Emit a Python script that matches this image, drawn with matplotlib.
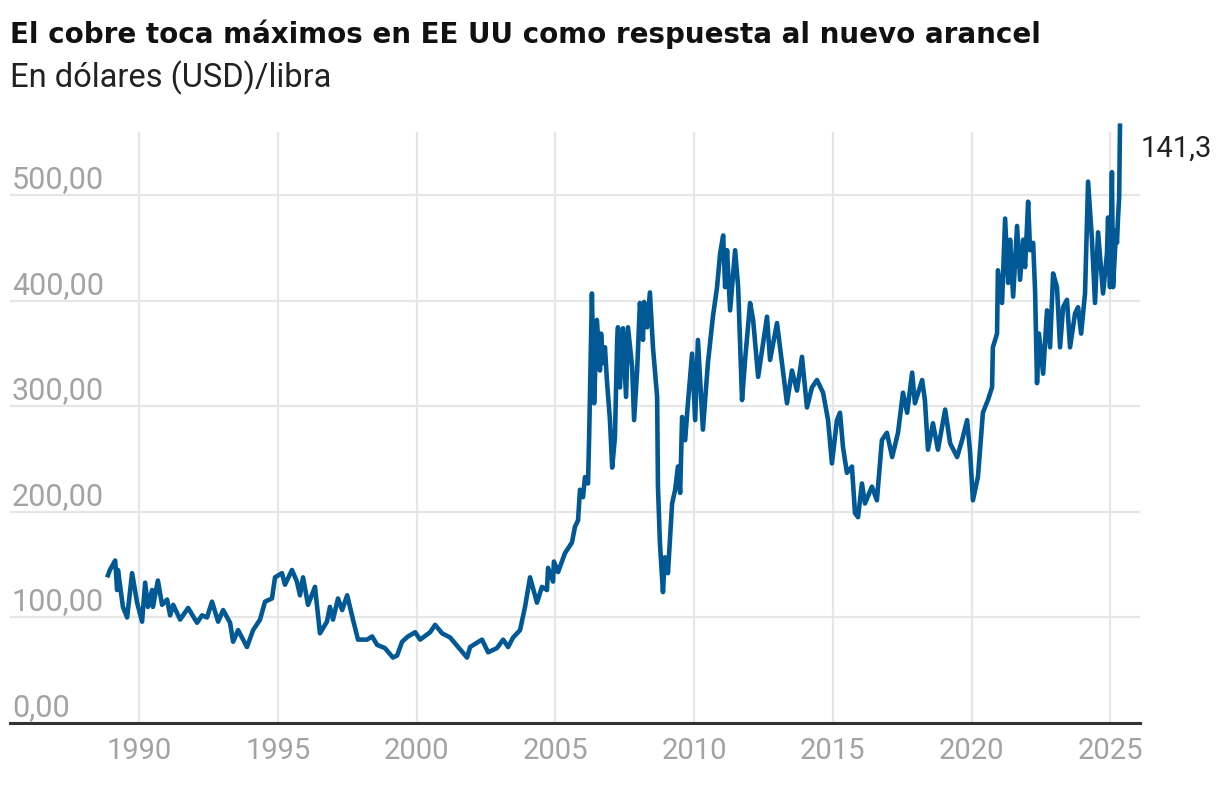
import matplotlib.pyplot as plt

# precio del cobre (USD/libra)
years = [
    1988.88, 1988.95, 1989.14, 1989.21, 1989.24, 1989.42, 1989.57, 1989.75, 1989.93,
    1990.11, 1990.22, 1990.32, 1990.47, 1990.50, 1990.68, 1990.83, 1991.01, 1991.12,
    1991.23, 1991.48, 1991.77, 1992.09, 1992.27, 1992.45, 1992.63, 1992.85, 1993.03,
    1993.28, 1993.39, 1993.57, 1993.89, 1994.11, 1994.36, 1994.54, 1994.79, 1994.90,
    1995.15, 1995.26, 1995.51, 1995.69, 1995.80, 1995.91, 1996.09, 1996.34, 1996.52,
    1996.77, 1996.88, 1996.99, 1997.17, 1997.32, 1997.50, 1997.71, 1997.89, 1998.22,
    1998.40, 1998.58, 1998.86, 1999.15, 1999.30, 1999.48, 1999.69, 1999.95, 2000.13,
    2000.49, 2000.67, 2000.92, 2001.21, 2001.50, 2001.82, 2001.93, 2002.18, 2002.36,
    2002.58, 2002.90, 2003.12, 2003.30, 2003.48, 2003.73, 2003.91, 2004.09, 2004.34,
    2004.52, 2004.70, 2004.74, 2004.92, 2004.95, 2005.10, 2005.35, 2005.60, 2005.71,
    2005.82, 2005.89, 2006.00, 2006.07, 2006.18, 2006.22, 2006.32, 2006.40, 2006.50,
    2006.61, 2006.65, 2006.72, 2006.79, 2006.86, 2006.97, 2007.05, 2007.15, 2007.23,
    2007.26, 2007.33, 2007.44, 2007.55, 2007.62, 2007.77, 2007.84, 2007.95, 2008.05,
    2008.16, 2008.20, 2008.31, 2008.41, 2008.52, 2008.67, 2008.70, 2008.77, 2008.88,
    2008.95, 2009.06, 2009.21, 2009.32, 2009.42, 2009.50, 2009.57, 2009.68, 2009.78,
    2009.93, 2010.04, 2010.14, 2010.32, 2010.50, 2010.68, 2010.83, 2010.94, 2011.05,
    2011.12, 2011.19, 2011.30, 2011.48, 2011.59, 2011.73, 2011.84, 2012.02, 2012.13,
    2012.31, 2012.45, 2012.63, 2012.74, 2012.99, 2013.17, 2013.35, 2013.53, 2013.71,
    2013.89, 2014.07, 2014.25, 2014.43, 2014.65, 2014.83, 2014.97, 2015.15, 2015.26,
    2015.37, 2015.51, 2015.69, 2015.80, 2015.91, 2016.05, 2016.16, 2016.41, 2016.59,
    2016.77, 2016.95, 2017.14, 2017.35, 2017.53, 2017.68, 2017.86, 2017.96, 2018.22,
    2018.32, 2018.43, 2018.61, 2018.79, 2019.05, 2019.23, 2019.48, 2019.66, 2019.84,
    2019.95, 2020.05, 2020.23, 2020.41, 2020.59, 2020.74, 2020.77, 2020.92, 2020.95,
    2021.10, 2021.21, 2021.32, 2021.39, 2021.50, 2021.64, 2021.75, 2021.86, 2021.93,
    2022.04, 2022.11, 2022.22, 2022.29, 2022.36, 2022.43, 2022.58, 2022.72, 2022.83,
    2022.94, 2023.08, 2023.19, 2023.30, 2023.44, 2023.55, 2023.73, 2023.84, 2023.95,
    2024.09, 2024.20, 2024.34, 2024.45, 2024.56, 2024.74, 2024.88, 2024.92, 2024.99,
    2025.06, 2025.10, 2025.21, 2025.24, 2025.28, 2025.32, 2025.35,
]
price = [
    140, 145, 154, 126, 145, 110, 100, 142, 114,
    96, 133, 110, 126, 110, 135, 112, 117, 102,
    112, 98, 109, 95, 102, 100, 115, 96, 107,
    95, 77, 88, 72, 88, 98, 115, 118, 138,
    142, 131, 145, 134, 121, 138, 112, 129, 85,
    96, 110, 98, 118, 107, 121, 98, 79, 79,
    82, 74, 71, 62, 64, 77, 82, 86, 79,
    86, 93, 85, 81, 72, 62, 72, 76, 79,
    67, 71, 79, 72, 81, 88, 110, 138, 114,
    129, 126, 147, 134, 153, 143, 161, 171, 186,
    192, 221, 214, 233, 227, 271, 407, 303, 382,
    334, 369, 341, 356, 325, 287, 242, 271, 363,
    375, 318, 374, 309, 375, 337, 287, 334, 398,
    363, 399, 375, 408, 356, 309, 224, 171, 124,
    157, 142, 208, 221, 243, 218, 290, 268, 303,
    350, 287, 363, 278, 341, 385, 413, 445, 462,
    413, 448, 391, 448, 413, 306, 344, 398, 382,
    328, 353, 385, 344, 379, 341, 303, 334, 315,
    347, 299, 318, 325, 313, 287, 246, 287, 294,
    261, 237, 243, 199, 195, 227, 208, 224, 211,
    268, 275, 252, 275, 313, 294, 332, 303, 325,
    306, 259, 284, 259, 297, 265, 252, 268, 287,
    256, 211, 233, 294, 306, 318, 356, 369, 429,
    398, 478, 417, 458, 404, 471, 420, 458, 432,
    494, 448, 455, 410, 322, 369, 331, 391, 356,
    426, 413, 356, 394, 401, 356, 388, 394, 369,
    407, 513, 458, 398, 465, 407, 445, 479, 413,
    522, 413, 467, 455, 479, 498, 566,
]
x_ticks = [1990, 1995, 2000, 2005, 2010, 2015, 2020, 2025]
y_ticks = [0, 100, 200, 300, 400, 500]
y_labels = ["0,00", "100,00", "200,00", "300,00", "400,00", "500,00"]
end_label = "141,3"

fig = plt.figure(figsize=(12.2, 8.08), dpi=100)
ax = fig.add_axes([0.0082, 0.1052, 0.9262, 0.7314])

ax.plot(years, price, color="#005894", lw=3.3, solid_joinstyle="round", clip_on=False, zorder=3)

ax.set_xlim(1985.35, 2026.07)
ax.set_ylim(0, 560)

for s in ["top", "right", "left"]:
    ax.spines[s].set_visible(False)
ax.spines["bottom"].set_color("#333333")
ax.spines["bottom"].set_linewidth(2.2)
ax.spines["bottom"].set_zorder(4)

ax.set_xticks(x_ticks)
ax.set_xticklabels([str(t) for t in x_ticks], fontsize=21, color="#a3a3a3", family="Roboto")
ax.tick_params(axis="x", length=0, pad=10)
ax.set_yticks(y_ticks)
ax.set_yticklabels([])
ax.tick_params(axis="y", length=0)
ax.grid(True, color="#e6e6e6", lw=1.6)
ax.set_axisbelow(True)

for v, lab in zip(y_ticks, y_labels):
    ax.annotate(lab, xy=(0.0016, v), xycoords=("axes fraction", "data"),
                xytext=(0, 5), textcoords="offset points", va="baseline", ha="left",
                fontsize=22, color="#a3a3a3", family="Roboto", zorder=2)

ax.annotate(end_label, xy=(years[-1], price[-1]), xytext=(15, -22.5),
            textcoords="offset points", va="baseline", ha="left",
            fontsize=21, color="#222222", family="Roboto", annotation_clip=False)

fig.text(0.0082, 1 - 43 / 808, "El cobre toca máximos en EE UU como respuesta al nuevo arancel",
         fontsize=20, fontweight="bold", family="DejaVu Sans", color="#111111", va="baseline")
fig.text(0.0082, 1 - 87 / 808, "En dólares (USD)/libra",
         fontsize=23.5, family="Roboto", color="#222222", va="baseline")

fig.savefig("out.png", dpi=100)
